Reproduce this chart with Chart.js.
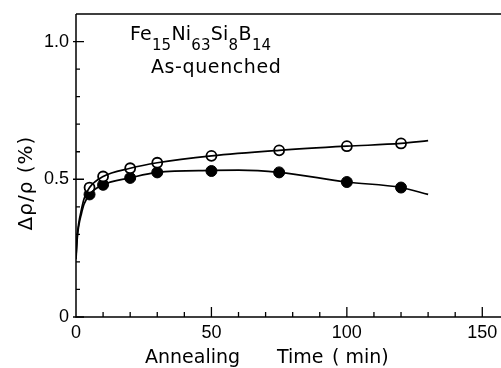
<!DOCTYPE html>
<html><head><meta charset="utf-8">
<script src="https://cdn.jsdelivr.net/npm/chart.js@4/dist/chart.umd.min.js"></script>
<style>html,body{margin:0;padding:0;background:#fff}#wrap{width:501px;height:368px}</style>
</head><body><div id="wrap"><canvas id="c" width="501" height="368"></canvas></div>
<script>
// Measured points (annealing time in min, Δρ/ρ in %)
const times = [5, 10, 20, 30, 50, 75, 100, 120];
const openValues = [0.47, 0.51, 0.54, 0.56, 0.585, 0.605, 0.62, 0.63];
const filledValues = [0.445, 0.48, 0.505, 0.525, 0.53, 0.525, 0.49, 0.47];
// Smooth fitted curves
const openCurveT = [0, 0.5, 1, 2, 3, 5, 10, 20, 30, 50, 75, 100, 120, 130];
const openCurveV = [0.22, 0.30, 0.34, 0.39, 0.43, 0.47, 0.51, 0.54, 0.56, 0.585, 0.605, 0.62, 0.63, 0.64];
const filledCurveT = [0, 0.5, 1, 2, 3, 5, 10, 20, 30, 50, 60, 75, 100, 120, 130];
const filledCurveV = [0.21, 0.29, 0.33, 0.375, 0.41, 0.445, 0.48, 0.505, 0.525, 0.532, 0.533, 0.525, 0.49, 0.47, 0.445];
const xTickLabels = ['0', '50', '100', '150'];
const yTickLabels = ['0', '0.5', '1.0'];

const FONT = "'Liberation Sans', Arial, sans-serif";
const TFONT = "'DejaVu Sans', sans-serif";
const pts = (t, v) => t.map((x, i) => ({x, y: v[i]}));

const decor = {
  id: 'decor',
  afterDraw(chart) {
    const {ctx, chartArea: a, scales: {x, y}} = chart;
    const W = chart.width;
    ctx.save();
    ctx.strokeStyle = '#000';
    ctx.lineWidth = 1.5;
    // frame: left, bottom, top
    ctx.beginPath();
    ctx.moveTo(a.left, a.top); ctx.lineTo(W, a.top);
    ctx.moveTo(a.left, a.top); ctx.lineTo(a.left, a.bottom);
    ctx.lineTo(W, a.bottom);
    ctx.stroke();
    // inward ticks
    ctx.lineWidth = 1.3;
    ctx.beginPath();
    for (let v = 0; v <= 1.0001; v += 0.1) {
      const py = y.getPixelForValue(v);
      const major = Math.abs(v * 2 - Math.round(v * 2)) < 1e-6;
      ctx.moveTo(a.left - (major ? 3 : 0), py);
      ctx.lineTo(a.left + (major ? 8 : 4), py);
    }
    for (let t = 10; t <= 150; t += 10) {
      const px = x.getPixelForValue(t);
      const major = t % 50 === 0;
      ctx.moveTo(px, a.bottom);
      ctx.lineTo(px, a.bottom - (major ? 10 : 5));
    }
    ctx.stroke();
    // annotation text
    ctx.fillStyle = '#000';
    ctx.textBaseline = 'alphabetic';
    ctx.textAlign = 'left';
    const parts = [['Fe', 0], ['15', 1], ['Ni', 0], ['63', 1], ['Si', 0], ['8', 1], ['B', 0], ['14', 1]];
    let cx = 130;
    for (const [s, sub] of parts) {
      ctx.font = (sub ? '15px ' : '19px ') + TFONT;
      ctx.fillText(s, cx, sub ? 50 : 40);
      cx += ctx.measureText(s).width + 0.4;
    }
    ctx.font = '19px ' + TFONT;
    ctx.letterSpacing = '0.6px';
    ctx.fillText('As-quenched', 151, 73);
    ctx.letterSpacing = '0px';
    // axis titles
    ctx.font = '19px ' + TFONT;
    ctx.fillText('Annealing', 145, 363);
    ctx.fillText('Time', 277, 363);
    ctx.fillText('( min)', 332, 363);
    ctx.save();
    ctx.translate(32, 183);
    ctx.rotate(-Math.PI / 2);
    ctx.textAlign = 'center';
    ctx.font = '20px ' + TFONT;
    ctx.letterSpacing = '1px';
    ctx.fillText('Δρ/ρ (%)', 0, 0);
    ctx.restore();
    ctx.restore();
  }
};

new Chart(document.getElementById('c'), {
  type: 'scatter',
  data: {
    datasets: [
      {data: pts(openCurveT, openCurveV), showLine: true, borderColor: '#000', borderWidth: 1.7, pointRadius: 0, cubicInterpolationMode: 'monotone', fill: false},
      {data: pts(filledCurveT, filledCurveV), showLine: true, borderColor: '#000', borderWidth: 1.7, pointRadius: 0, cubicInterpolationMode: 'monotone', fill: false},
      {data: pts(times, openValues), showLine: false, pointRadius: 5, pointBackgroundColor: '#fff', pointBorderColor: '#000', pointBorderWidth: 1.8},
      {data: pts(times, filledValues), showLine: false, pointRadius: 5.5, pointBackgroundColor: '#000', pointBorderColor: '#000', pointBorderWidth: 1}
    ]
  },
  options: {
    responsive: false,
    animation: false,
    layout: {padding: {top: 14, right: 0, left: 0, bottom: 0}},
    plugins: {legend: {display: false}, tooltip: {enabled: false}},
    scales: {
      x: {
        type: 'linear', min: 0, max: 154.4,
        afterBuildTicks: s => { s.ticks = [0, 50, 100, 150].map(v => ({value: v})); },
        afterFit: s => { s.height = 51; s.paddingRight = 0; s.paddingLeft = 0; },
        ticks: {color: '#000', font: {family: FONT, size: 18}, padding: 5, maxRotation: 0,
          callback: (v, i) => xTickLabels[i]},
        grid: {display: false, drawTicks: false},
        border: {display: false}
      },
      y: {
        min: 0, max: 1.1,
        afterBuildTicks: s => { s.ticks = [0, 0.5, 1.0].map(v => ({value: v})); },
        afterFit: s => { s.width = 76; s.paddingTop = 0; s.paddingBottom = 0; },
        ticks: {color: '#000', font: {family: FONT, size: 18}, padding: 7,
          callback: (v, i) => yTickLabels[i]},
        grid: {display: false, drawTicks: false},
        border: {display: false}
      }
    }
  },
  plugins: [decor]
});
</script></body></html>
